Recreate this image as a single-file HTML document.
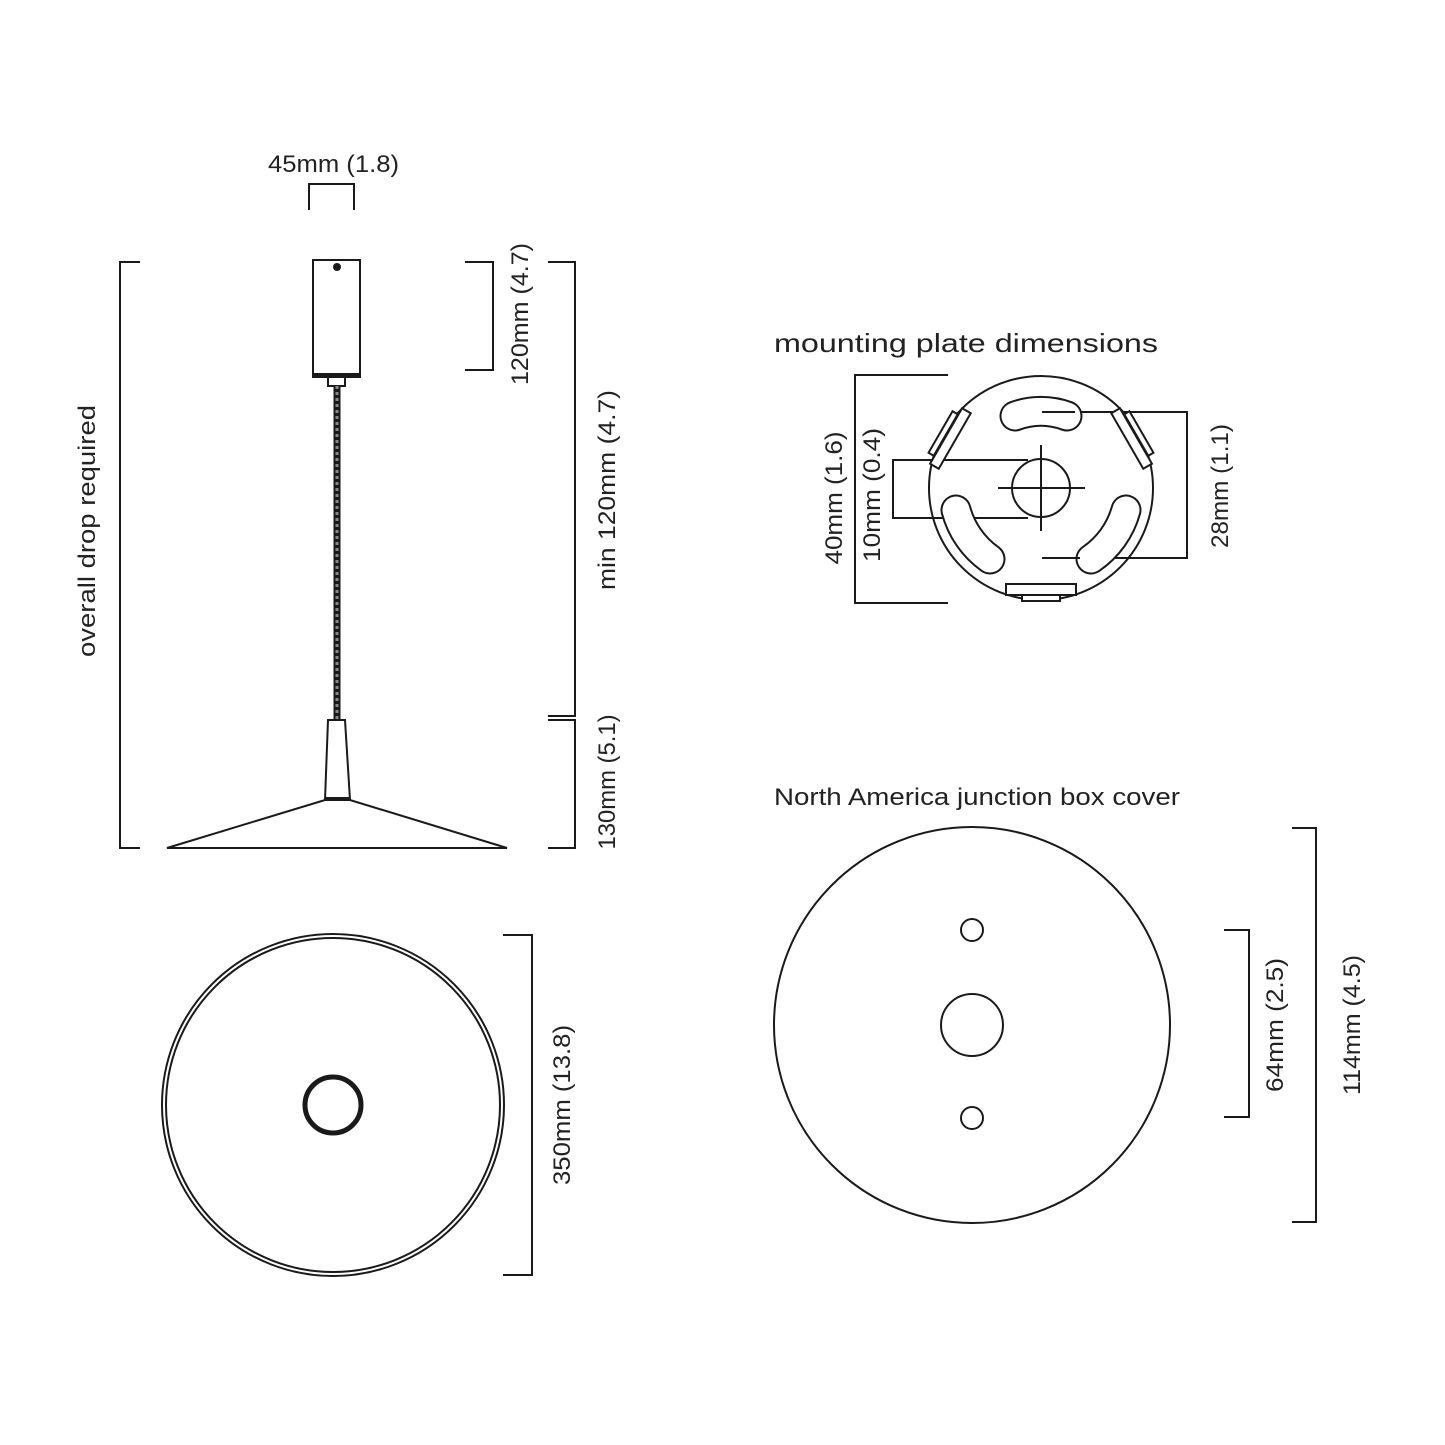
<!DOCTYPE html>
<html><head><meta charset="utf-8"><style>
html,body{margin:0;padding:0;background:#fff}
svg{display:block}
text{font-family:"Liberation Sans",sans-serif;font-size:24px;fill:#222}
</style></head><body>
<svg width="1445" height="1445" viewBox="0 0 1445 1445" xmlns="http://www.w3.org/2000/svg">
<g fill="none" stroke="#1a1a1a" stroke-width="2">
<polyline points="309,210 309,184 354,184 354,210"/>
<polyline points="140,262 120,262 120,848 140,848"/>
<polyline points="465,262 493,262 493,370 465,370"/>
<polyline points="548,262 575,262 575,716 548,716"/>
<polyline points="548,720 575,720 575,848 548,848"/>
<rect x="313" y="260" width="47" height="117"/>
<line x1="313" y1="375" x2="360" y2="375" stroke-width="4"/>
<rect x="328" y="377" width="17" height="9"/>
<line x1="337" y1="386" x2="337" y2="720" stroke-width="7"/>
<line x1="337" y1="386" x2="337" y2="720" stroke="#888" stroke-width="3" stroke-dasharray="3 3"/>
<polygon points="328,720 345,720 350,800 325,800"/>
<line x1="325" y1="799" x2="350" y2="799" stroke-width="4"/>
<polygon points="325,800 350,800 507,848 167,848"/>
<circle cx="333" cy="1105" r="171"/>
<circle cx="333" cy="1105" r="167"/>
<circle cx="333" cy="1105" r="28" stroke-width="5"/>
<polyline points="503,935 532,935 532,1275 503,1275"/>
<polyline points="948,375 855,375 855,603 948,603"/>
<polyline points="1028,460 893,460 893,518 1028,518"/>
<polyline points="1042,412 1187,412 1187,558 1042,558"/>
<circle cx="1041" cy="488" r="112"/>
<circle cx="1041" cy="488" r="29"/>
<line x1="1041" y1="445" x2="1041" y2="531"/>
<line x1="998" y1="488" x2="1085" y2="488"/>
<g fill="#fff">
<rect x="-8" y="-32" width="10" height="64" transform="translate(953,440) rotate(30)"/>
<rect x="-4" y="-24" width="6" height="48" transform="translate(944,434) rotate(30)"/>
<rect x="-2" y="-32" width="10" height="64" transform="translate(1129,440) rotate(-30)"/>
<rect x="-2" y="-24" width="6" height="48" transform="translate(1138,434) rotate(-30)"/>
<rect x="1006" y="584" width="70" height="11"/>
<rect x="1022" y="595" width="38" height="6"/>
</g>
<g stroke-linecap="round">
<path d="M1015,416 A76,76 0 0 1 1067,416" stroke-width="31"/>
<path d="M990,559 A88,88 0 0 1 956,510" stroke-width="31"/>
<path d="M1126,510 A88,88 0 0 1 1091,559" stroke-width="31"/>
<g stroke="#fff" stroke-width="27">
<path d="M1015,416 A76,76 0 0 1 1067,416"/>
<path d="M990,559 A88,88 0 0 1 956,510"/>
<path d="M1126,510 A88,88 0 0 1 1091,559"/>
</g>
</g>
<line x1="1042" y1="412" x2="1075" y2="412"/>
<line x1="1042" y1="558" x2="1080" y2="558"/>
<circle cx="972" cy="1025" r="198"/>
<circle cx="972" cy="1025" r="31"/>
<circle cx="972" cy="930" r="11"/>
<circle cx="972" cy="1118" r="11"/>
<polyline points="1224,930 1249,930 1249,1117 1224,1117"/>
<polyline points="1292,828 1316,828 1316,1222 1292,1222"/>
</g>
<circle cx="337" cy="267" r="4" fill="#1a1a1a"/>
<text x="268" y="172" textLength="131" lengthAdjust="spacingAndGlyphs">45mm (1.8)</text>
<text transform="translate(95,531) rotate(-90)" text-anchor="middle" textLength="252" lengthAdjust="spacingAndGlyphs">overall drop required</text>
<text transform="translate(528,314) rotate(-90)" text-anchor="middle" textLength="142" lengthAdjust="spacingAndGlyphs">120mm (4.7)</text>
<text transform="translate(615,490) rotate(-90)" text-anchor="middle" textLength="200" lengthAdjust="spacingAndGlyphs">min 120mm (4.7)</text>
<text transform="translate(615,782) rotate(-90)" text-anchor="middle" textLength="135" lengthAdjust="spacingAndGlyphs">130mm (5.1)</text>
<text transform="translate(570,1105) rotate(-90)" text-anchor="middle" textLength="160" lengthAdjust="spacingAndGlyphs">350mm (13.8)</text>
<text x="774" y="352" textLength="384" lengthAdjust="spacingAndGlyphs" style="font-size:26px">mounting plate dimensions</text>
<text transform="translate(842,498) rotate(-90)" text-anchor="middle" textLength="133" lengthAdjust="spacingAndGlyphs">40mm (1.6)</text>
<text transform="translate(880,495) rotate(-90)" text-anchor="middle" textLength="134" lengthAdjust="spacingAndGlyphs">10mm (0.4)</text>
<text transform="translate(1228,486) rotate(-90)" text-anchor="middle" textLength="124" lengthAdjust="spacingAndGlyphs">28mm (1.1)</text>
<text x="774" y="805" textLength="406" lengthAdjust="spacingAndGlyphs">North America junction box cover</text>
<text transform="translate(1283,1025) rotate(-90)" text-anchor="middle" textLength="134" lengthAdjust="spacingAndGlyphs">64mm (2.5)</text>
<text transform="translate(1360,1025) rotate(-90)" text-anchor="middle" textLength="140" lengthAdjust="spacingAndGlyphs">114mm (4.5)</text>
</svg>
</body></html>
